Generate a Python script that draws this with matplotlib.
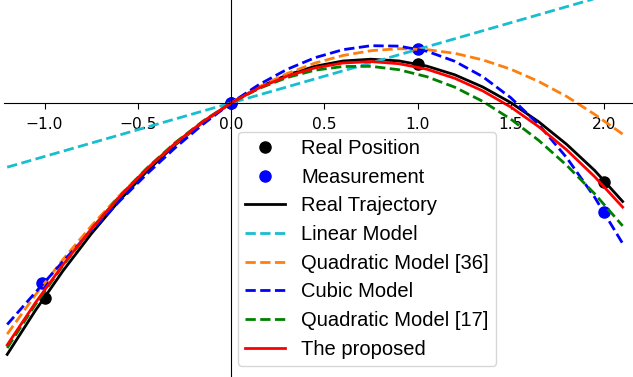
import matplotlib
matplotlib.use("Agg")
import matplotlib.pyplot as plt

# ---- data (y in arbitrary units) ----
pos_x = [-1.0, 0.0, 1.0, 2.0]
pos_y = [-1.945, 0.0, 0.395, -0.785]

meas_x = [-1.013, 0.0, 1.0, 2.0]
meas_y = [-1.80, 0.0, 0.54, -1.087]

curve_x = [-1.2, -1.05, -0.9, -0.75, -0.6, -0.45, -0.3, -0.15, 0.0, 0.15, 0.3, 0.45,
           0.6, 0.75, 0.9, 1.05, 1.2, 1.35, 1.5, 1.65, 1.8, 1.95, 2.1]

real_traj = [-2.514, -2.078, -1.676, -1.310, -0.978, -0.681, -0.419, -0.192, 0.0, 0.157,
             0.280, 0.367, 0.420, 0.438, 0.421, 0.369, 0.282, 0.160, 0.004, -0.188,
             -0.414, -0.675, -0.985]

linear_x = [-1.2, 2.1]
linear_y = [-0.642, 1.124]

quad36 = [-2.311, -1.923, -1.563, -1.232, -0.929, -0.654, -0.408, -0.190, 0.0, 0.161,
          0.294, 0.399, 0.475, 0.523, 0.543, 0.534, 0.497, 0.431, 0.338, 0.215,
          0.065, -0.114, -0.311]

cubic = [-2.215, -1.897, -1.583, -1.279, -0.986, -0.708, -0.449, -0.212, 0.0, 0.184,
         0.336, 0.453, 0.533, 0.573, 0.569, 0.518, 0.417, 0.263, 0.053, -0.216,
         -0.547, -0.943, -1.405]

quad17 = [-2.450, -2.018, -1.623, -1.263, -0.938, -0.650, -0.398, -0.181, 0.0, 0.145,
          0.254, 0.328, 0.365, 0.367, 0.333, 0.263, 0.158, 0.016, -0.161, -0.374,
          -0.623, -0.908, -1.229]

proposed = [-2.420, -2.001, -1.615, -1.263, -0.943, -0.657, -0.404, -0.185, 0.0, 0.151,
            0.268, 0.351, 0.400, 0.414, 0.393, 0.338, 0.247, 0.121, -0.040, -0.237,
            -0.469, -0.737, -1.041]

xticks = [-1.0, -0.5, 0.0, 0.5, 1.0, 1.5, 2.0]
xticklabels = ["\u22121.0", "\u22120.5", "0.0", "0.5", "1.0", "1.5", "2.0"]

# ---- figure ----
W, H = 633, 377
fig = plt.figure(figsize=(W / 100, H / 100), dpi=100)
ax = fig.add_axes([4 / W, 0, (W - 4) / W, 1])

lw = 2
ms = 8
ax.plot(pos_x, pos_y, "o", color="k", ms=ms, label="Real Position")
ax.plot(meas_x, meas_y, "o", color="b", ms=ms, label="Measurement")
ax.plot(curve_x, real_traj, "-", color="k", lw=lw, label="Real Trajectory")
ax.plot(linear_x, linear_y, "--", color="tab:cyan", lw=lw, label="Linear Model")
ax.plot(curve_x, quad36, "--", color="tab:orange", lw=lw, label="Quadratic Model [36]")
ax.plot(curve_x, cubic, "--", color="b", lw=lw, label="Cubic Model")
ax.plot(curve_x, quad17, "--", color="g", lw=lw, label="Quadratic Model [17]")
ax.plot(curve_x, proposed, "-", color="r", lw=lw, label="The proposed")

ax.set_xlim(-227 / 186.5, (W - 231) / 186.5)
ax.set_ylim(-(H - 103) / 100, 103 / 100)

ax.spines["left"].set_position(("data", 0))
ax.spines["bottom"].set_position(("data", 0))
ax.spines["top"].set_visible(False)
ax.spines["right"].set_visible(False)
ax.set_yticks([])
ax.set_xticks(xticks)
ax.set_xticklabels(xticklabels, family="DejaVu Sans", fontsize=11.2)
ax.tick_params(axis="x", length=4, pad=6)

leg = ax.legend(loc="upper left", bbox_to_anchor=(238 / W, 1 - 132 / H),
                bbox_transform=fig.transFigure, borderaxespad=0,
                prop={"family": "Liberation Sans", "size": 14.5},
                labelspacing=0.48, numpoints=1, borderpad=0.35)

fig.savefig("out.png", dpi=100)
